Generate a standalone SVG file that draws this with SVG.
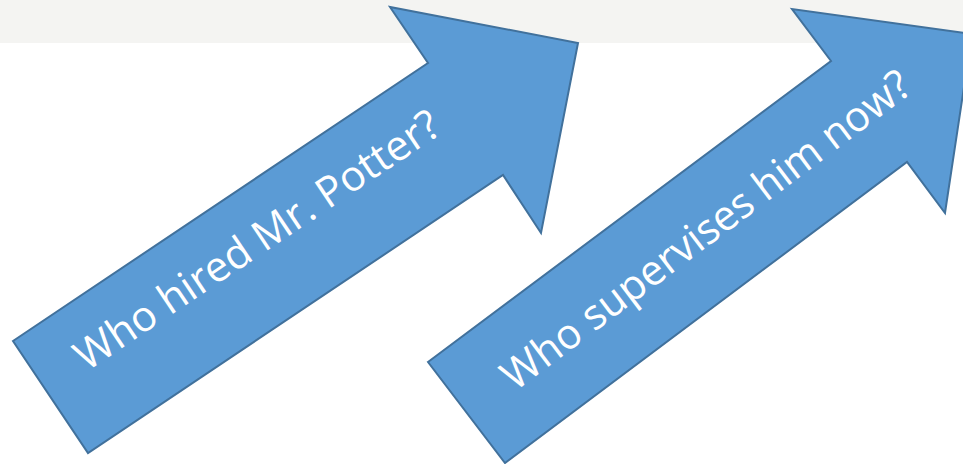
<svg xmlns="http://www.w3.org/2000/svg" width="963" height="464" viewBox="0 0 963 464">
<style>
.arrow{fill:#5b9bd5;stroke:#41719c;stroke-width:2;stroke-linejoin:miter}
.lbl{font-family:"Open Sans","Noto Sans","Liberation Sans",sans-serif;font-size:42px;fill:#ffffff;text-anchor:middle}
</style>
<rect x="0" y="0" width="963" height="464" fill="#ffffff"/>
<rect x="0" y="0" width="963" height="43" fill="#f4f4f2"/>
<g id="connectors"></g>
<g id="arrow1">
<polygon class="arrow" points="13,341 428,63 390,7 578,43 541,233 503,175 88,453"/>
<text class="lbl" transform="translate(265,252) rotate(-33.9)" x="0" y="0" textLength="430" lengthAdjust="spacingAndGlyphs">Who hired Mr. Potter?</text>
</g>
<g id="arrow2">
<polygon class="arrow" points="428,362 831,61 792,9 972,34 945,213 907,162 505,463"/>
<text class="lbl" transform="translate(714.5,241.5) rotate(-37)" x="0" y="0" textLength="500" lengthAdjust="spacingAndGlyphs">Who supervises him now?</text>
</g>
</svg>
